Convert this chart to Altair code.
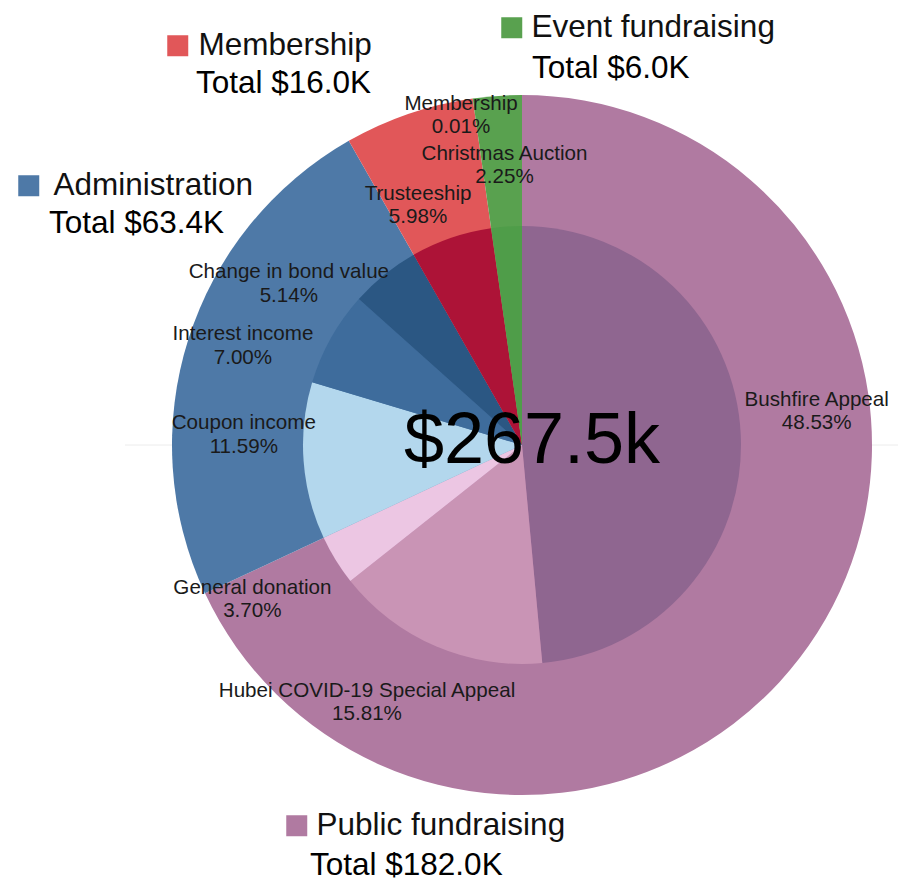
import altair as alt
import pandas as pd

# ---------------- data ----------------
categories = ["Public fundraising", "Administration", "Membership", "Event fundraising"]
category_totals_k = [182.0, 63.4, 16.0, 6.0]
grand_total_k = 267.5

sub_names = [
    "Bushfire Appeal", "Hubei COVID-19 Special Appeal", "General donation",
    "Coupon income", "Interest income", "Change in bond value",
    "Trusteeship", "Membership", "Christmas Auction",
]
sub_category = (["Public fundraising"] * 3 + ["Administration"] * 3
                + ["Membership"] * 2 + ["Event fundraising"])
sub_share = [48.53, 15.81, 3.70, 11.59, 7.00, 5.14, 5.98, 0.01, 2.25]

# ---------------- styles ----------------
CAT_COLORS = ["#b07aa1", "#4e79a7", "#e15759", "#59a14f"]
SUB_COLORS = ["#8f6690", "#c994b5", "#ecc6e3", "#b3d7ed", "#3e6c9c",
              "#2b5783", "#ad1337", "#c0283a", "#4f9d49"]
FONT = "Liberation Sans"
W = H = 700
PAD = {"left": 164, "top": 87, "right": 26, "bottom": 86}
R_OUT, R_IN, R_LABEL = 350, 219, 290
LEGEND_FONT = 31.5

# legend placement: (square legend x, y, label offset, total legend x, y)
LEGEND_POS = {
    "Public fundraising": (109, 715, 4, 106.5, 755),
    "Administration": (-159, 75, 9, -154.5, 113),
    "Membership": (-10, -65, 5, -7.5, -27),
    "Event fundraising": (324, -83, 4, 328.5, -42),
}
# small nudges of the slice labels away from overlaps
LABEL_NUDGE = {
    "Bushfire Appeal": (5, -32),
    "Hubei COVID-19 Special Appeal": (-41, -21),
    "General donation": (-23, -10),
    "Coupon income": (11, -43),
    "Interest income": (-26, 31),
    "Change in bond value": (-51, 53),
    "Trusteeship": (-10, 23),
    "Membership": (-20, -54),
    "Christmas Auction": (3, -2),
}

# ---------------- tables ----------------
sub_df = pd.DataFrame({
    "sub": sub_names, "category": sub_category,
    "share": sub_share, "order": list(range(len(sub_names))),
})
cat_df = pd.DataFrame({
    "category": categories, "total_k": category_totals_k,
    "order": list(range(len(categories))),
})
cat_df["share"] = [float(sub_df.loc[sub_df["category"] == c, "share"].sum()) for c in categories]
cat_df["total_label"] = [f"Total ${t:.1f}K" for t in category_totals_k]
TOTAL = float(sub_df["share"].sum())

theta_scale = alt.Scale(domain=[0, TOTAL])


def cumulate(ch):
    return ch.transform_window(
        end="sum(share)", sort=[alt.SortField("order")], frame=[None, 0]
    ).transform_calculate(
        start="datum.end - datum.share", mid="datum.end - datum.share / 2"
    )


layers = []

# faint horizontal guide line behind the pie
layers.append(
    alt.Chart(pd.DataFrame({"a": [0]})).mark_rule(color="#ececec", strokeWidth=1).encode(
        x=alt.value(-47), x2=alt.value(726), y=alt.value(H / 2)
    )
)

# outer ring: one layer per category (each with its own legend)
for c, col, tl in zip(categories, CAT_COLORS, cat_df["total_label"]):
    sx, sy, lo, tx, ty = LEGEND_POS[c]
    layers.append(
        cumulate(alt.Chart(cat_df))
        .transform_filter(alt.datum.category == c)
        .mark_arc(radius=R_OUT)
        .encode(
            theta=alt.Theta("start:Q", scale=theta_scale, stack=False),
            theta2="end:Q",
            color=alt.Color(
                "category:N",
                scale=alt.Scale(domain=[c], range=[col]),
                legend=alt.Legend(
                    orient="none", legendX=sx, legendY=sy, title=None,
                    symbolType="square", symbolSize=441, symbolStrokeWidth=0,
                    symbolOpacity=1, labelFont=FONT, labelFontSize=LEGEND_FONT,
                    labelColor="#111111", labelLimit=800, labelOffset=lo, padding=0,
                ),
            ),
            opacity=alt.Opacity(
                "total_label:O",
                scale=alt.Scale(domain=[tl], range=[1]),
                legend=alt.Legend(
                    orient="none", legendX=tx, legendY=ty, title=None,
                    symbolSize=0, symbolStrokeWidth=0, symbolOpacity=0,
                    labelFont=FONT, labelFontSize=LEGEND_FONT, labelColor="#000000",
                    labelLimit=800, labelOffset=0, padding=0,
                ),
            ),
        )
    )

# inner pie
layers.append(
    cumulate(alt.Chart(sub_df))
    .mark_arc(radius=R_IN)
    .encode(
        theta=alt.Theta("start:Q", scale=theta_scale, stack=False),
        theta2="end:Q",
        color=alt.Color("sub:N", scale=alt.Scale(domain=sub_names, range=SUB_COLORS), legend=None),
    )
)

# slice labels
for s in sub_names:
    dx, dy = LABEL_NUDGE[s]
    layers.append(
        cumulate(alt.Chart(sub_df))
        .transform_calculate(label="datum.sub + '\\n' + format(datum.share, '.2f') + '%'")
        .transform_filter(alt.datum.sub == s)
        .mark_text(
            radius=R_LABEL, dx=dx, dy=dy, font=FONT, fontSize=20.6, color="#1a1a1a",
            lineBreak="\n", lineHeight=23.5, align="center", baseline="middle",
        )
        .encode(theta=alt.Theta("mid:Q", scale=theta_scale, stack=False), text="label:N")
    )

# centre total
layers.append(
    alt.Chart(pd.DataFrame({"t": [f"${grand_total_k:.1f}k"]}))
    .mark_text(font=FONT, fontSize=72, color="#000000", dx=10, dy=-4, align="center", baseline="middle")
    .encode(text="t:N")
)

chart = (
    alt.layer(*layers)
    .resolve_scale(color="independent", opacity="independent")
    .properties(width=W, height=H, padding=PAD,
                autosize=alt.AutoSizeParams(type="none"), background="white")
    .configure_view(stroke="transparent")
)

chart.save("out.html", embed_options={"renderer": "svg", "actions": False})
